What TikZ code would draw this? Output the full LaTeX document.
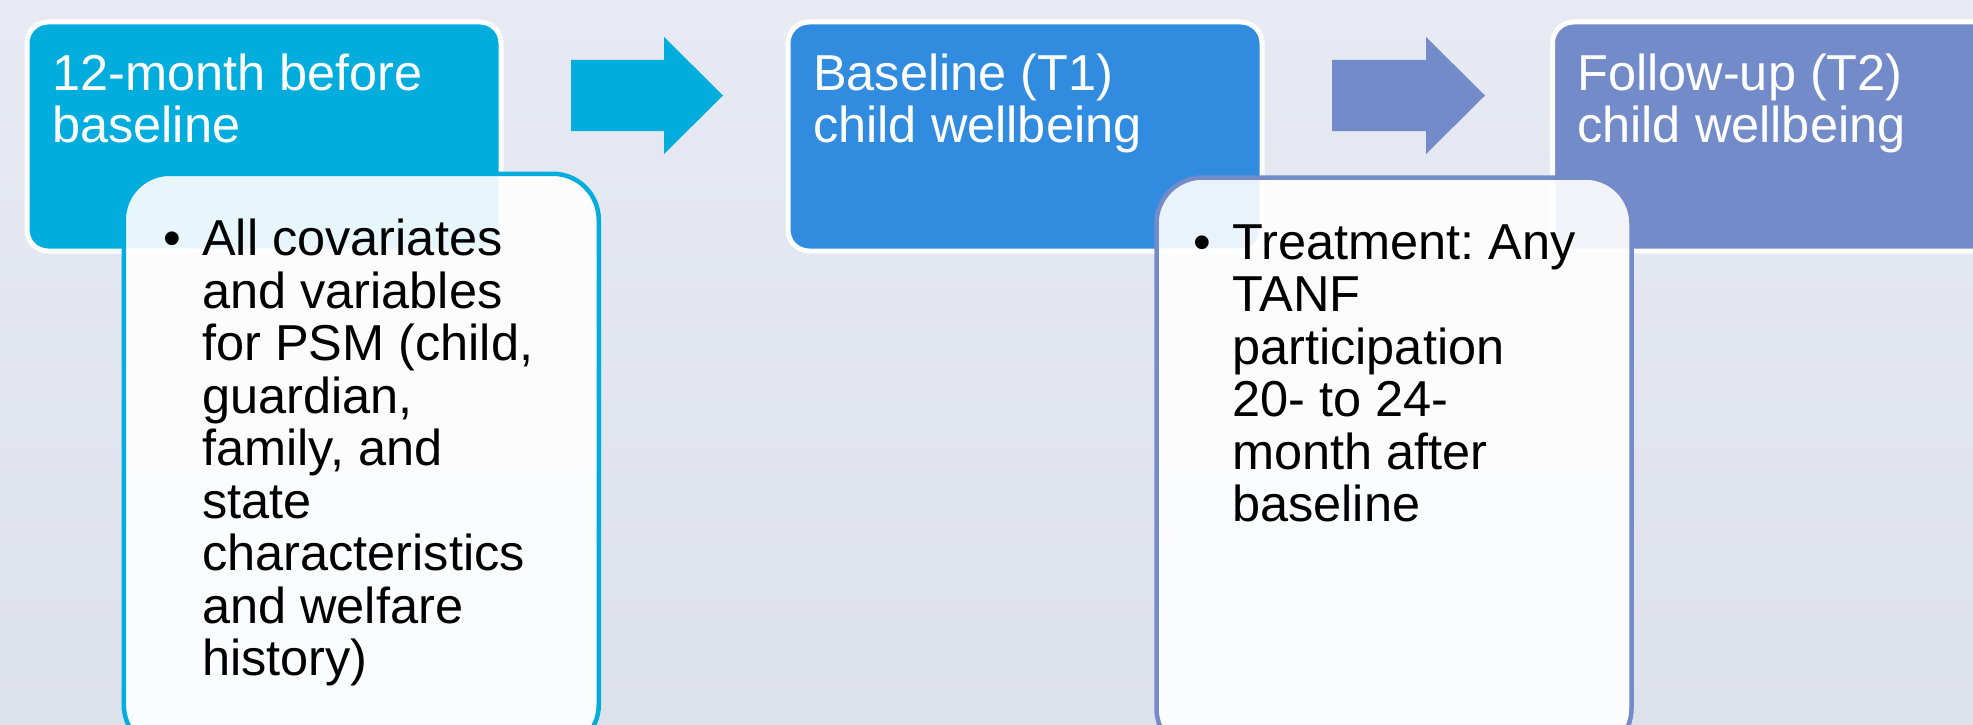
\documentclass[tikz,border=0pt]{standalone}
\usepackage{fontspec}
\setmainfont{Liberation Sans}
\frenchspacing
\definecolor{cyanA}{RGB}{0,173,220}
\definecolor{blueB}{RGB}{49,140,224}
\definecolor{purpC}{RGB}{115,139,200}
\definecolor{bgtop}{RGB}{231,234,243}
\definecolor{bgbot}{RGB}{221,225,236}
\begin{document}
\begin{tikzpicture}[x=1pt,y=-1pt,
  topbox/.style={draw=white, line width=5pt, rounded corners=21pt,
    minimum width=474pt, minimum height=229pt, inner sep=0pt, anchor=north west},
  subbox/.style={line width=4.5pt, rounded corners=46pt, fill=white, fill opacity=0.9,
    minimum width=475pt, minimum height=577pt, inner sep=0pt, anchor=north west},
  titletext/.style={text=white, anchor=base west, align=left, inner sep=0pt,
    font=\fontsize{50.5}{52.5}\selectfont},
  bodytext/.style={text=black, anchor=base west, align=left, inner sep=0pt,
    font=\fontsize{50.5}{52.5}\selectfont},
  blockarrow/.style={draw=none}
]
\useasboundingbox (0,0) rectangle (1973,725);
\clip (0,0) rectangle (1973,725);
\shade[top color=bgtop, bottom color=bgbot] (0,0) rectangle (1973,725);

% top boxes
\node[topbox, fill=cyanA] (b1) at (24.5,19.5) {};
\node[topbox, fill=blueB] (b2) at (785.5,19.5) {};
\node[topbox, fill=purpC, minimum width=480pt] (b3) at (1550,19.5) {};

% block arrows
\fill[blockarrow, cyanA] (571,60) -- (664,60) -- (664,37) -- (723,95.5) -- (664,154) -- (664,131) -- (571,131) -- cycle;
\fill[blockarrow, purpC] (1332,60) -- (1426,60) -- (1426,37) -- (1485,95.5) -- (1426,154) -- (1426,131) -- (1332,131) -- cycle;

% titles (base anchor = baseline of last line)
\node[titletext] (t1) at (52,142.5) {12-month before\\baseline};
\node[titletext] (t2) at (813,142.5) {Baseline (T1)\\child wellbeing};
\node[titletext] (t3) at (1577,142.5) {Follow-up (T2)\\child wellbeing};

% sub boxes
\node[subbox, draw=cyanA] (s1) at (121.5,171.5) {};
\node[subbox, draw=purpC] (s2) at (1154.25,175.25) {};

% body texts (base anchor = baseline of last line)
\node[bodytext] (x1) at (202,675.5) {\llap{•\hspace{21pt}}All covariates\\and variables\\for PSM (child,\\guardian,\\family, and\\state\\characteristics\\and welfare\\history)};
\node[bodytext] (x2) at (1232,521.5) {\llap{•\hspace{21pt}}Treatment: Any\\TANF\\participation\\20- to 24-\\month after\\baseline};
\end{tikzpicture}
\end{document}
